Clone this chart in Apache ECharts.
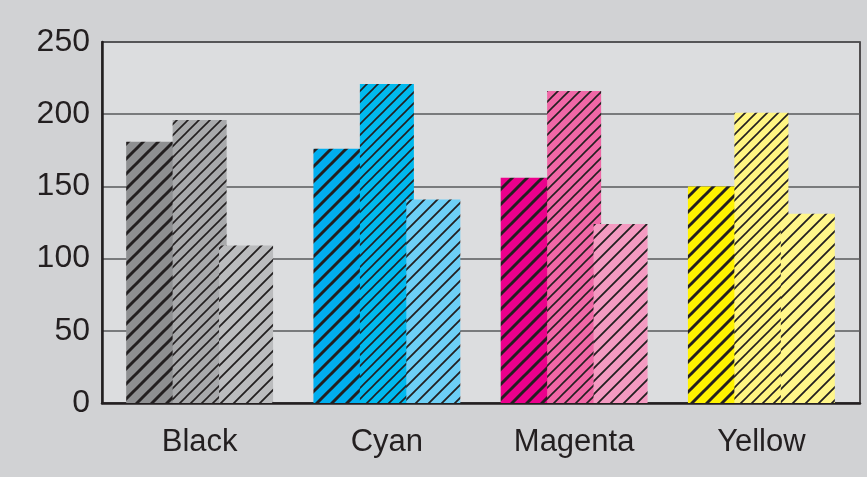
<!DOCTYPE html>
<html>
<head>
<meta charset="utf-8">
<script src="https://cdn.jsdelivr.net/npm/echarts@6/dist/echarts.min.js"></script>
<style>
html,body{margin:0;padding:0;background:#d1d2d4;}
#chart{width:867px;height:477px;}
</style>
</head>
<body>
<div id="chart"></div>
<script>
var categories = ['Black', 'Cyan', 'Magenta', 'Yellow'];
var yTicks = [0, 50, 100, 150, 200, 250];
var seriesA = [181, 176, 156, 150];
var seriesB = [196, 221, 216, 201];
var seriesC = [109, 141, 124, 131];
var shadesA = ['#8e8f91', '#00aeef', '#ec008c', '#fff200'];
var shadesB = ['#a8a9ab', '#00b9ee', '#f067a6', '#fff582'];
var shadesC = ['#bbbcbe', '#6dcff6', '#f49ac1', '#fff68a'];

function hatch(bg, period, lw) {
  var c = document.createElement('canvas');
  c.width = period; c.height = period;
  var ctx = c.getContext('2d');
  ctx.fillStyle = bg;
  ctx.fillRect(0, 0, period, period);
  ctx.strokeStyle = '#231f20';
  ctx.lineWidth = lw;
  ctx.beginPath();
  for (var k = -1; k <= 1; k++) {
    ctx.moveTo(k * period - 1, period + 1);
    ctx.lineTo(k * period + period + 1, -1);
  }
  ctx.stroke();
  return { image: c, repeat: 'repeat' };
}

function items(values, shades, period, lw) {
  return values.map(function (v, i) {
    return { value: v, itemStyle: { color: hatch(shades[i], period, lw) } };
  });
}

var chart = echarts.init(document.getElementById('chart'));
var font = 'Liberation Sans, Arial, Helvetica, sans-serif';
var yMin = yTicks[0], yMax = yTicks[yTicks.length - 1], yStep = yTicks[1] - yTicks[0];
chart.setOption({
  backgroundColor: '#d1d2d4',
  animation: false,
  grid: [
    { left: 102, right: 7, top: 42, bottom: 74, show: true, backgroundColor: '#dcdddf',
      borderColor: '#231f20', borderWidth: 1.5 },
    { left: 106, right: 12, top: 42, bottom: 74 }
  ],
  xAxis: [
    { type: 'category', gridIndex: 0, data: categories,
      axisLine: { lineStyle: { color: '#231f20', width: 2.5 } },
      axisTick: { show: false }, axisLabel: { show: false } },
    { type: 'category', gridIndex: 1, data: categories,
      axisLine: { show: false }, axisTick: { show: false },
      axisLabel: { color: '#231f20', fontSize: 31, fontFamily: font, margin: 24 } }
  ],
  yAxis: [
    { type: 'value', gridIndex: 0, min: yMin, max: yMax, interval: yStep,
      axisLine: { show: true, lineStyle: { color: '#231f20', width: 2.5 } },
      axisTick: { show: false },
      splitLine: { lineStyle: { color: '#58595b', width: 1.5 } },
      axisLabel: { color: '#231f20', fontSize: 32, fontFamily: font, margin: 12 } },
    { type: 'value', gridIndex: 1, min: yMin, max: yMax, interval: yStep,
      axisLine: { show: false }, axisTick: { show: false },
      splitLine: { show: false }, axisLabel: { show: false } }
  ],
  series: [
    { type: 'bar', xAxisIndex: 1, yAxisIndex: 1, barWidth: 54, barGap: '-14%', data: items(seriesA, shadesA, 15, 3) },
    { type: 'bar', xAxisIndex: 1, yAxisIndex: 1, barWidth: 54, barGap: '-14%', data: items(seriesB, shadesB, 11, 1.6) },
    { type: 'bar', xAxisIndex: 1, yAxisIndex: 1, barWidth: 54, barGap: '-14%', data: items(seriesC, shadesC, 13, 1.8) }
  ]
});
</script>
</body>
</html>
